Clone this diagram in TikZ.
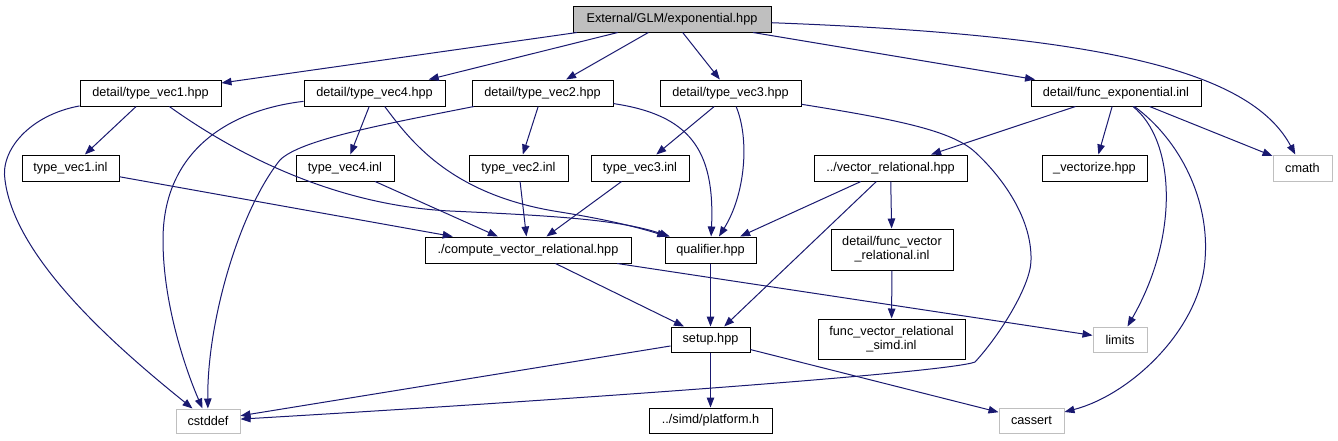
\documentclass[tikz,border=0pt]{standalone}
\usepackage{fontspec}
\setmainfont{Liberation Sans}
\usetikzlibrary{arrows.meta}
\definecolor{edgec}{HTML}{191970}
\definecolor{rootfill}{HTML}{BFBFBF}
\definecolor{extc}{HTML}{BFBFBF}
\begin{document}
\begin{tikzpicture}[x=1pt,y=-1pt,
  box/.style={draw=black, fill=white, line width=1pt, inner sep=0pt, minimum height=26pt,
              font=\fontsize{12.7}{14.3}\selectfont, align=center},
  ext/.style={box, draw=extc},
  e/.style={draw=edgec, line width=1pt, -{Triangle[length=10pt,width=7.5pt]}}]
\fill[white] (0,0) rectangle (1338,440);
\useasboundingbox (0,0) rectangle (1338,440);

% nodes
\node[box, fill=rootfill, minimum width=198pt] (root) at (672,19) {External/GLM/exponential.hpp};
\node[box, minimum width=141pt] (tv1h) at (150.5,93) {detail/type\_vec1.hpp};
\node[box, minimum width=141pt] (tv4h) at (374.5,93) {detail/type\_vec4.hpp};
\node[box, minimum width=141pt] (tv2h) at (542.5,93) {detail/type\_vec2.hpp};
\node[box, minimum width=141pt] (tv3h) at (730.5,93) {detail/type\_vec3.hpp};
\node[box, minimum width=170pt] (fexp) at (1116,93) {detail/func\_exponential.inl};
\node[box, minimum width=97pt] (tv1i) at (70.5,168) {type\_vec1.inl};
\node[box, minimum width=98pt] (tv4i) at (345,168) {type\_vec4.inl};
\node[box, minimum width=99pt] (tv2i) at (518.5,168) {type\_vec2.inl};
\node[box, minimum width=98pt] (tv3i) at (640,168) {type\_vec3.inl};
\node[box, minimum width=153pt] (vrel) at (890.5,168) {../vector\_relational.hpp};
\node[box, minimum width=105pt] (vect) at (1094.5,168) {\_vectorize.hpp};
\node[ext, minimum width=59pt] (cmath) at (1302.5,168) {cmath};
\node[box, minimum width=206pt] (comp) at (528,250) {./compute\_vector\_relational.hpp};
\node[box, minimum width=91pt] (qual) at (710.5,250) {qualifier.hpp};
\node[box, minimum width=122pt, minimum height=41pt] (fvr) at (892,249.5) {detail/func\_vector\\\_relational.inl};
\node[box, minimum width=79pt, minimum height=25pt] (setup) at (710.5,339.5) {setup.hpp};
\node[box, minimum width=147pt, minimum height=40pt] (simd) at (891.5,339) {func\_vector\_relational\\\_simd.inl};
\node[ext, minimum width=54pt, minimum height=25pt] (limits) at (1120,339.5) {limits};
\node[ext, minimum width=64pt, minimum height=24pt] (cstddef) at (208,421) {cstddef};
\node[box, minimum width=123pt, minimum height=25pt] (plat) at (710.5,420.5) {../simd/platform.h};
\node[ext, minimum width=65pt, minimum height=25pt] (cassert) at (1031.5,420.5) {cassert};

% edges from root
\draw[e] (root) -- (tv1h);
\draw[e] (root) -- (tv4h);
\draw[e] (root) -- (tv2h);
\draw[e] (root) -- (tv3h);
\draw[e] (root) -- (fexp);
\draw[e] (root) .. controls (1100,35) and (1250,70) .. (cmath);

% type_vec1.hpp
\draw[e] (tv1h) -- (tv1i);
\draw[e] (tv1h) .. controls (30,115) and (0,150) .. (5,180) .. controls (15,260) and (120,350) .. (cstddef);
\draw[e] (tv1h) .. controls (230,150) and (330,205) .. (450,211) .. controls (560,216) and (620,220) .. (qual);

% type_vec4.hpp
\draw[e] (tv4h) -- (tv4i);
\draw[e] (tv4h) .. controls (230,110) and (163,150) .. (163,240) .. controls (163,310) and (190,380) .. (cstddef);
\draw[e] (tv4h) .. controls (410,140) and (450,195) .. (560,212) .. controls (610,220) and (640,228) .. (qual);

% type_vec2.hpp
\draw[e] (tv2h) -- (tv2i);
\draw[e] (tv2h) .. controls (380,125) and (300,140) .. (280,160) .. controls (240,210) and (207,320) .. (cstddef);
\draw[e] (tv2h) .. controls (690,115) and (715,150) .. (qual);

% type_vec3.hpp
\draw[e] (tv3h) -- (tv3i);
\draw[e] (tv3h) .. controls (750,140) and (745,195) .. (qual);
\draw[e] (tv3h) .. controls (900,120) and (952,131) .. (975,152) .. controls (998,173) and (1032,215) .. (1031,260)
   .. controls (1031,285) and (1000,335) .. (975,362) .. controls (950,372) and (600,398) .. (cstddef);

% inl -> compute
\draw[e] (tv1i) -- (comp);
\draw[e] (tv4i) -- (comp);
\draw[e] (tv2i) -- (comp);
\draw[e] (tv3i) -- (comp);

% func_exponential.inl
\draw[e] (fexp) -- (vrel);
\draw[e] (fexp) -- (vect);
\draw[e] (fexp) -- (cmath);
\draw[e] (fexp) .. controls (1175,140) and (1180,235) .. (limits);
\draw[e] (fexp) .. controls (1180,140) and (1210,200) .. (1205,260) .. controls (1200,330) and (1130,395) .. (cassert);

% vector_relational.hpp
\draw[e] (vrel) -- (qual);
\draw[e] (vrel) -- (setup);
\draw[e] (vrel) -- (fvr);

% lower part
\draw[e] (comp) -- (setup);
\draw[e] (comp) -- (limits);
\draw[e] (qual) -- (setup);
\draw[e] (fvr) -- (simd);
\draw[e] (setup) -- (cstddef);
\draw[e] (setup) -- (plat);
\draw[e] (setup) -- (cassert);
\end{tikzpicture}
\end{document}
